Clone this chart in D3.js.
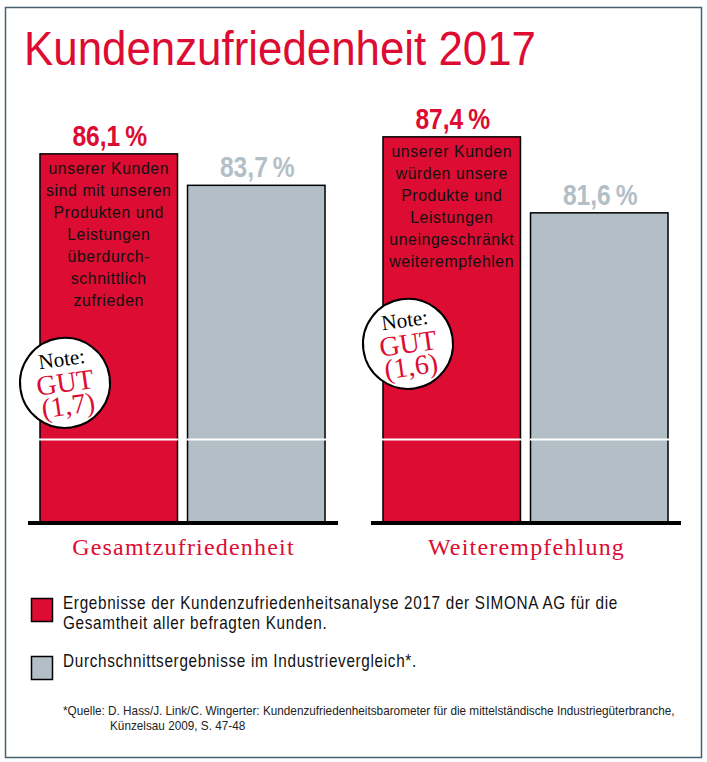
<!DOCTYPE html>
<html>
<head>
<meta charset="utf-8">
<script src="https://cdn.jsdelivr.net/npm/d3@7"></script>
<style>
    body { margin: 0; background: #fff; }
    svg { display: block; }
    .sans { font-family: 'Liberation Sans', Arial, sans-serif; }
    .serif { font-family: 'Liberation Serif', 'DejaVu Serif', serif; }
</style>
</head>
<body>
<svg id="chart" width="707" height="762"></svg>
<script>
// chart data
const categories = ['Gesamtzufriedenheit', 'Weiterempfehlung'];
const seriesNames = ['SIMONA AG', 'Industrievergleich'];
const simonaValues = [86.1, 87.4];
const industryValues = [83.7, 81.6];
const yDomain = [58, 90];        // truncated axis, bars start at 58 %
const axisBreakValue = 64.3;     // white break line across the bars
const barTexts = [
    ['unserer Kunden', 'sind mit unseren', 'Produkten und', 'Leistungen', 'überdurch-', 'schnittlich', 'zufrieden'],
    ['unserer Kunden', 'würden unsere', 'Produkte und', 'Leistungen', 'uneingeschränkt', 'weiterempfehlen']
];
const grades = ['(1,7)', '(1,6)'];
const legendTexts = [
    ['Ergebnisse der Kundenzufriedenheitsanalyse 2017 der SIMONA AG für die', 'Gesamtheit aller befragten Kunden.'],
    ['Durchschnittsergebnisse im Industrievergleich*.']
];
const footnoteLines = [
    '*Quelle: D. Hass/J. Link/C. Wingerter: Kundenzufriedenheitsbarometer für die mittelständische Industriegüterbranche,',
    'Künzelsau 2009, S. 47-48'
];

const RED = '#dc0c32';
const GREY = '#b2bfc6';
const colors = [RED, GREY];

const svg = d3.select('#chart');

// outer frame
svg.append('rect')
    .attr('x', 5.5).attr('y', 7.5)
    .attr('width', 696).attr('height', 750)
    .attr('fill', 'none')
    .attr('stroke', '#45616f')
    .attr('stroke-width', 1.5);

// title (condensed look via textLength)
svg.append('text')
    .attr('class', 'sans')
    .attr('x', 24).attr('y', 65)
    .attr('font-size', 49)
    .attr('fill', RED)
    .attr('textLength', 512)
    .attr('lengthAdjust', 'spacingAndGlyphs')
    .text('Kundenzufriedenheit 2017');

// scales
const baseY = 522;
const x0 = d3.scaleBand()
    .domain(categories)
    .range([40, 668])
    .paddingInner(0.169)
    .paddingOuter(0);

const x1 = d3.scaleBand()
    .domain(seriesNames)
    .range([0, x0.bandwidth()])
    .paddingInner(0.068);

const y = d3.scaleLinear()
    .domain(yDomain)
    .range([baseY, baseY - (yDomain[1] - yDomain[0]) * 13.1]);

// flatten to one record per bar
const bars = [];
categories.forEach((c, i) => {
    bars.push({ cat: c, series: seriesNames[0], value: simonaValues[i], idx: i, s: 0 });
    bars.push({ cat: c, series: seriesNames[1], value: industryValues[i], idx: i, s: 1 });
});
const barX = d => x0(d.cat) + x1(d.series);

const g = svg.append('g');

// bars
g.selectAll('.bar')
    .data(bars)
    .enter().append('rect')
    .attr('class', 'bar')
    .attr('x', barX)
    .attr('y', d => y(d.value))
    .attr('width', x1.bandwidth())
    .attr('height', d => y(yDomain[0]) - y(d.value))
    .attr('fill', d => colors[d.s])
    .attr('stroke', '#000')
    .attr('stroke-width', 1.5);

// axis break line
g.selectAll('.break')
    .data(bars)
    .enter().append('line')
    .attr('x1', d => barX(d) - 1)
    .attr('x2', d => barX(d) + x1.bandwidth() + 1)
    .attr('y1', y(axisBreakValue))
    .attr('y2', y(axisBreakValue))
    .attr('stroke', '#fff')
    .attr('stroke-width', 2);

// baseline under each group
g.selectAll('.baseline')
    .data(categories)
    .enter().append('line')
    .attr('x1', d => x0(d) - 12)
    .attr('x2', d => x0(d) + x0.bandwidth() + 13)
    .attr('y1', baseY + 1)
    .attr('y2', baseY + 1)
    .attr('stroke', '#000')
    .attr('stroke-width', 4);

// value labels, squeezed horizontally to mimic a condensed face
g.selectAll('.value')
    .data(bars)
    .enter().append('g')
    .attr('transform', d => `translate(${barX(d) + x1.bandwidth() / 2 + 1},${y(d.value) - 8}) scale(0.82,1)`)
    .append('text')
    .attr('class', 'sans')
    .attr('text-anchor', 'middle')
    .attr('font-size', 30)
    .attr('font-weight', 'bold')
    .attr('fill', d => colors[d.s])
    .text(d => d.value.toFixed(1).replace('.', ',') + '\u2009%');

// descriptive text inside red bars + grade badges
categories.forEach((c, i) => {
    const bx = x0(c) + x1(seriesNames[0]);
    const cx = bx + x1.bandwidth() / 2;
    const top = y(simonaValues[i]);
    const lines = barTexts[i];

    const t = g.append('g')
        .attr('transform', `translate(${cx},0) scale(0.96,1)`)
        .append('text')
        .attr('class', 'sans')
        .attr('text-anchor', 'middle')
        .attr('font-size', 16.5)
        .attr('letter-spacing', 0.6)
        .attr('fill', '#111');
    lines.forEach((line, k) => {
        t.append('tspan')
            .attr('x', 0)
            .attr('y', top + 20 + k * 22)
            .text(line);
    });

    const lastY = top + 20 + (lines.length - 1) * 22;
    const badge = g.append('g')
        .attr('transform', `translate(${bx + 25},${lastY + 77}) rotate(-8)`);
    badge.append('circle')
        .attr('r', 45)
        .attr('fill', '#fff')
        .attr('stroke', '#000')
        .attr('stroke-width', 2);
    badge.append('text')
        .attr('class', 'serif')
        .attr('y', -17)
        .attr('text-anchor', 'middle')
        .attr('font-size', 21)
        .attr('fill', '#000')
        .text('Note:');
    badge.append('text')
        .attr('class', 'serif')
        .attr('y', 9)
        .attr('text-anchor', 'middle')
        .attr('font-size', 28)
        .attr('fill', RED)
        .text('GUT');
    badge.append('text')
        .attr('class', 'serif')
        .attr('y', 32)
        .attr('text-anchor', 'middle')
        .attr('font-size', 28)
        .attr('fill', RED)
        .text(grades[i]);
});

// category labels
g.selectAll('.cat')
    .data(categories)
    .enter().append('text')
    .attr('class', 'serif')
    .attr('x', d => x0(d) + x0.bandwidth() / 2 + 1)
    .attr('y', 555)
    .attr('text-anchor', 'middle')
    .attr('font-size', 24)
    .attr('letter-spacing', 1.2)
    .attr('fill', RED)
    .text(d => d);

// legend
const legendY = [598, 656];
const legend = svg.append('g');
legendTexts.forEach((lines, i) => {
    legend.append('rect')
        .attr('x', 31.5).attr('y', legendY[i] + 0.5)
        .attr('width', 21).attr('height', 23)
        .attr('fill', colors[i])
        .attr('stroke', '#000')
        .attr('stroke-width', 1.5);
    const t = legend.append('g')
        .attr('transform', 'translate(63,0) scale(0.85,1)')
        .append('text')
        .attr('class', 'sans')
        .attr('font-size', 18)
        .attr('letter-spacing', 0.8)
        .attr('fill', '#111');
    lines.forEach((line, k) => {
        t.append('tspan')
            .attr('x', 0)
            .attr('y', legendY[i] + 11 + k * 20)
            .text(line);
    });
});

// footnote
svg.append('g').selectAll('g')
    .data(footnoteLines)
    .enter().append('g')
    .attr('transform', (d, i) => `translate(${i === 0 ? 63 : 110},${715 + i * 15}) scale(0.98,1)`)
    .append('text')
    .attr('class', 'sans')
    .attr('font-size', 12)
    .attr('fill', '#222')
    .text(d => d);
</script>
</body>
</html>
